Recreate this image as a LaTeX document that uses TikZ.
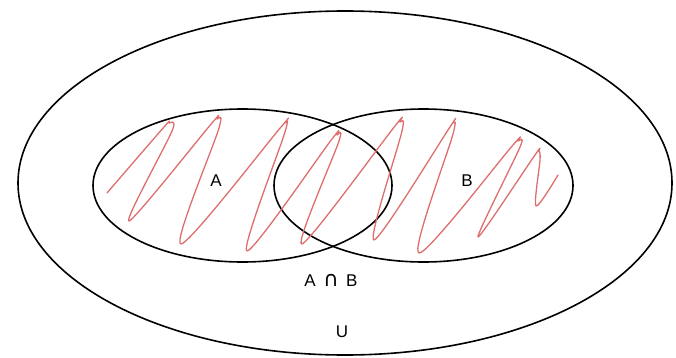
\documentclass[tikz,border=0pt]{standalone}
\usepackage{fontspec}
\setmainfont{Liberation Sans}
\newfontfamily\symfont{DejaVu Sans}
\definecolor{scribble}{RGB}{222,110,110}
\tikzset{
    setline/.style={line width=1.6pt, black},
    setlabel/.style={inner sep=0pt}
}
\begin{document}
\begin{tikzpicture}[x=1pt, y=-1pt, font=\fontsize{17}{20}\selectfont]
    \useasboundingbox (0,0) rectangle (676,358);

    % universe and the two sets
    \draw[setline] (345,183) ellipse (327 and 172);
    \draw[setline] (242.5,185.5) ellipse (149.5 and 76.5);
    \draw[setline] (423.5,185.5) ellipse (149.5 and 76.5);

    % hand-drawn shading of the union
    \draw[scribble, line width=1.3pt, line cap=round, line join=round]
        plot[smooth, tension=0.5] coordinates {
            (107,193) (164,127) (169,123) (172,131) (129,221)
            (212,123) (217,119) (219,128) (181,244)
            (281,127) (285,123) (285,132) (247,251)
            (332,139) (337,135) (339,141) (302,244)
            (395,126) (400,122) (402,131) (374,240)
            (450,127) (453,123) (453,134) (419,253)
            (513,145) (518,141) (520,147) (478,237)
            (535,155) (539,151) (540,160) (536,206) (558,175)
        };

    \node[setlabel] (labA) at (216,181) {A};
    \node[setlabel] (labB) at (467,181) {B};
    \node[setlabel] (labAB) at (331,280) {A\, {\symfont\fontsize{21}{22}\selectfont ∩}\, B};
    \node[setlabel] (labU) at (342,332) {U};
\end{tikzpicture}
\end{document}
